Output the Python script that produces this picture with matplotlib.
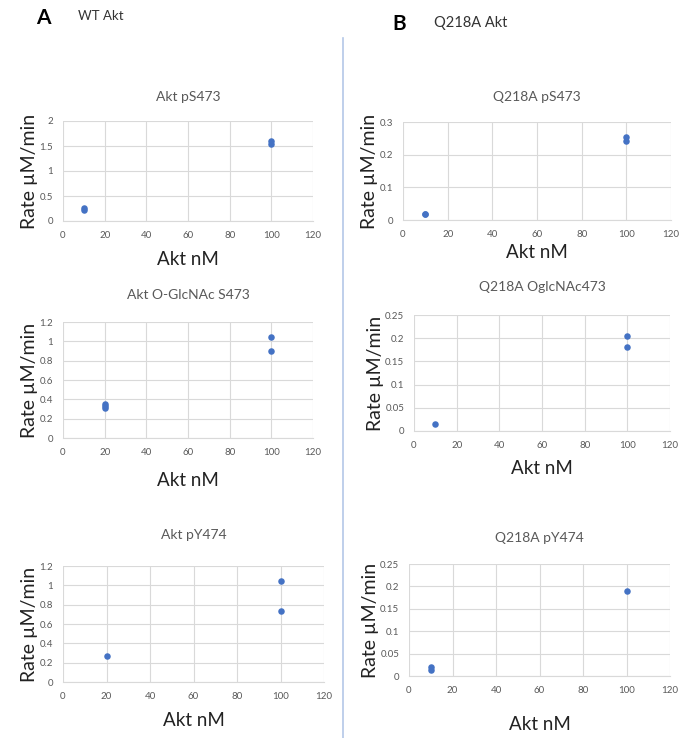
import matplotlib.pyplot as plt
import numpy as np

plt.rcParams['font.family'] = ['Lato', 'DejaVu Sans']

W, H = 680, 738

# ~~~~~ data ~~~~~
titles = ["Akt pS473", "Q218A pS473",
          "Akt O-GlcNAc S473", "Q218A OglcNAc473",
          "Akt pY474", "Q218A pY474"]

wt_ps473_x = [10, 10, 100, 100]
wt_ps473_y = [0.22, 0.26, 1.54, 1.60]
q_ps473_x = [10, 10, 100, 100]
q_ps473_y = [0.017, 0.019, 0.255, 0.241]
wt_oglc_x = [20, 20, 20, 100, 100]
wt_oglc_y = [0.31, 0.33, 0.35, 1.04, 0.90]
q_oglc_x = [10, 100, 100]
q_oglc_y = [0.015, 0.205, 0.180]
wt_py474_x = [20, 100, 100]
wt_py474_y = [0.265, 1.05, 0.73]
q_py474_x = [10, 10, 100]
q_py474_y = [0.013, 0.020, 0.190]

xs = [wt_ps473_x, q_ps473_x, wt_oglc_x, q_oglc_x, wt_py474_x, q_py474_x]
ys = [wt_ps473_y, q_ps473_y, wt_oglc_y, q_oglc_y, wt_py474_y, q_py474_y]
ymaxs = [2, 0.3, 1.2, 0.25, 1.2, 0.25]
ysteps = [0.5, 0.1, 0.2, 0.05, 0.2, 0.05]

# plot boxes in pixels: left, right, top, bottom
boxes = [(63, 313, 121, 221), (403, 671, 122, 220),
         (63, 313, 322, 438), (414, 670, 315, 431),
         (63, 324, 566, 682), (409, 670, 564, 676)]
title_y = [97, 97, 295, 287, 535, 538]
xlab_y = [260, 252, 480, 468, 720, 725]

fig = plt.figure(figsize=(W / 100, H / 100), dpi=100)


def fmt(v):
    s = f"{v:.2f}".rstrip('0').rstrip('.')
    return s


for i in range(6):
    l, r, t, b = boxes[i]
    ax = fig.add_axes([l / W, 1 - b / H, (r - l) / W, (b - t) / H])
    ax.scatter(xs[i], ys[i], s=22, color='#4472C4', zorder=3, linewidths=0)
    ax.set_xlim(0, 120)
    ax.set_ylim(0, ymaxs[i])
    ax.set_xticks(np.arange(0, 121, 20))
    yt = np.arange(0, ymaxs[i] + 1e-9, ysteps[i])
    ax.set_yticks(yt)
    ax.set_yticklabels([fmt(v) for v in yt])
    ax.grid(True, color='#d9d9d9', linewidth=0.8)
    ax.set_axisbelow(True)
    for s in ['top', 'right', 'left']:
        ax.spines[s].set_visible(False)
    ax.spines['bottom'].set_color('#d9d9d9')
    ax.tick_params(length=0, labelsize=7, labelcolor='#595959', pad=7)
    fig.text((l + r) / 2 / W, 1 - title_y[i] / H, titles[i], ha='center',
             va='center', fontsize=10, color='#595959')
    fig.text((l + r) / 2 / W, 1 - xlab_y[i] / H, "Akt nM", ha='center',
             va='center', fontsize=13.5, color='#222222')
    ax.set_ylabel("Rate µM/min", fontsize=14, color='#222222', labelpad=1)

# panel labels
fig.text(36 / W, 1 - 18 / H, "A", fontsize=15, fontweight='bold', va='center')
fig.text(78 / W, 1 - 16 / H, "WT Akt", fontsize=9.5, color='#333333', va='center')
fig.text(392 / W, 1 - 24 / H, "B", fontsize=15, fontweight='bold', va='center')
fig.text(434 / W, 1 - 23 / H, "Q218A Akt", fontsize=10.5, color='#333333', va='center')

# divider
fig.add_artist(plt.Line2D([343 / W, 343 / W], [0, 1 - 38 / H],
                          color='#b4c7e7', linewidth=1.2))

fig.savefig('out.png', dpi=100)
